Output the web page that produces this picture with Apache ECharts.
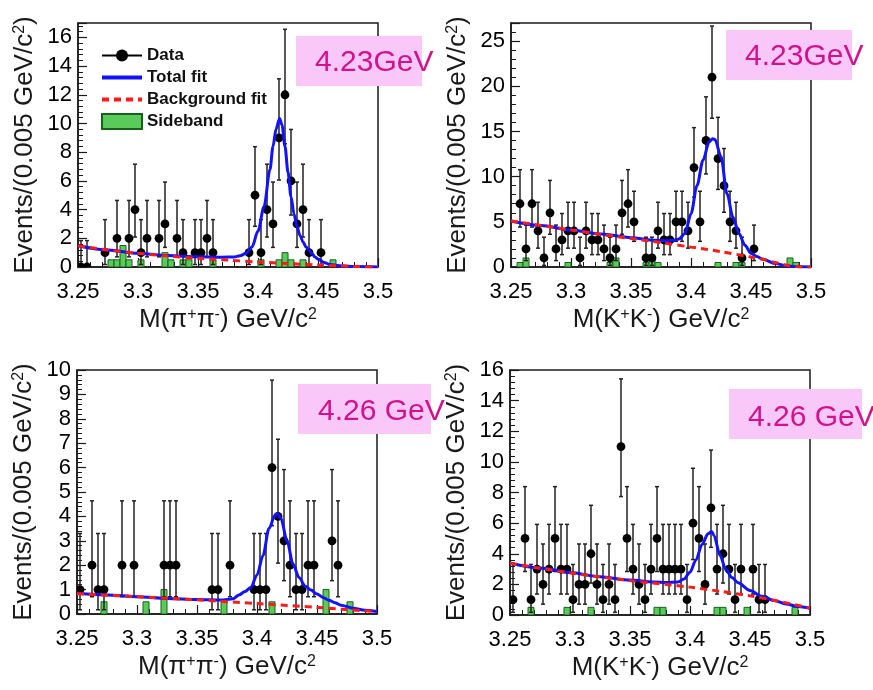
<!DOCTYPE html>
<html>
<head>
<meta charset="utf-8">
<title>chi_cJ fits</title>
<script src="https://cdn.jsdelivr.net/npm/echarts@6/dist/echarts.min.js"></script>
<style>
  html, body { margin: 0; padding: 0; background: #fff; }
  #main { width: 873px; height: 690px; }
</style>
</head>
<body>
<div id="main"></div>
<script>
// 50 bins of 0.005 GeV between 3.25 and 3.5
var binLow = 3.25, binWidth = 0.005;

// 68% Poisson (Garwood) intervals, index = observed count
var poissonLow  = [0, 0.173, 0.708, 1.367, 2.086, 2.840, 3.620, 4.419, 5.232, 6.057, 6.891,
                   7.734, 8.585, 9.441, 10.30, 11.17, 12.04, 12.92, 13.80, 14.68, 15.57, 16.46];
var poissonHigh = [1.841, 3.300, 4.638, 5.918, 7.163, 8.382, 9.584, 10.77, 11.95, 13.11, 14.27,
                   15.42, 16.56, 17.70, 18.83, 19.96, 21.08, 22.20, 23.32, 24.44, 25.55, 26.66];

// ---- 4.23 GeV, pi+pi- ----
var counts423pp = [0, 0, null, null, 1, null, 2, null, 2, 4,
                   1, 2, null, 2, 3, null, 2, 1, null, 1,
                   1, 2, 1, null, null, null, null, null, 1, 5,
                   1, 4, 3, 9, 12, 6, 3, 4, 1, null,
                   1, null, null, null, null, null, null, null, null, null];
var sbBins423pp = [5, 6, 7, 8, 10, 14, 15, 17, 18, 22, 30, 33, 34, 35, 37, 42];
var sbVals423pp = [0.5, 0.5, 1.5, 0.5, 0.5, 1, 0.5, 0.5, 0.5, 0.5, 0.5, 0.5, 1, 0.5, 0.5, 0.5];
var fitX423pp = [3.25, 3.275, 3.3, 3.325, 3.35, 3.37, 3.38, 3.385, 3.39, 3.395, 3.4, 3.405, 3.41, 3.4125,
                 3.415, 3.418, 3.42, 3.4225, 3.425, 3.4275, 3.43, 3.4325, 3.435, 3.4375, 3.44, 3.4425,
                 3.445, 3.4475, 3.45, 3.455, 3.46, 3.47, 3.48, 3.5];
var fitY423pp = [1.48, 1.18, 0.96, 0.80, 0.71, 0.68, 0.70, 0.78, 0.95, 1.4, 2.5, 4.2, 6.8, 8.4,
                 9.6, 10.35, 9.9, 8.4, 6.6, 4.9, 3.7, 2.8, 2.2, 1.75, 1.4, 1.17,
                 0.92, 0.7, 0.55, 0.32, 0.17, 0.07, 0.03, 0.0];
var bkgX423pp = [3.25, 3.275, 3.3, 3.325, 3.35, 3.375, 3.4, 3.425, 3.45, 3.465, 3.48, 3.5];
var bkgY423pp = [1.48, 1.18, 0.95, 0.76, 0.61, 0.48, 0.35, 0.24, 0.14, 0.09, 0.04, 0.0];

// ---- 4.23 GeV, K+K- ----
var counts423kk = [null, 7, 2, 7, 4, 1, 6, 2, 3, 4,
                   4, 1, 4, 3, 3, 2, 1, 2, 6, 7,
                   5, null, 1, 1, 4, 3, 3, 5, 5, 4,
                   11, 5, 14, 21, 12, 9, 5, 4, 1, null,
                   2, null, null, null, null, null, null, null, null, null];
var sbBins423kk = [1, 2, 9, 16, 17, 22, 23, 24, 34, 37, 38, 46, 47];
var sbVals423kk = [0.5, 1, 0.5, 0.5, 1, 0.5, 1, 0.5, 0.5, 0.5, 0.5, 1, 0.5];
var fitX423kk = [3.25, 3.275, 3.3, 3.325, 3.35, 3.37, 3.38, 3.385, 3.39, 3.395, 3.4, 3.405, 3.41,
                 3.415, 3.418, 3.42, 3.425, 3.43, 3.435, 3.44, 3.445, 3.45, 3.455, 3.46, 3.47,
                 3.48, 3.49, 3.5];
var fitY423kk = [5.1, 4.6, 4.1, 3.65, 3.25, 2.95, 2.9, 2.95, 3.1, 3.7, 5.9, 9.0, 11.8,
                 13.8, 14.2, 14.1, 12.2, 8.1, 5.5, 3.7, 2.4, 1.5, 1.15, 0.85, 0.4,
                 0.12, 0.02, 0.0];
var bkgX423kk = [3.25, 3.275, 3.3, 3.325, 3.35, 3.375, 3.4, 3.425, 3.45, 3.46, 3.47, 3.48, 3.49, 3.5];
var bkgY423kk = [5.1, 4.6, 4.1, 3.6, 3.15, 2.7, 2.2, 1.7, 1.1, 0.85, 0.5, 0.2, 0.03, 0.0];

// ---- 4.26 GeV, pi+pi- ----
var counts426pp = [1, null, 2, 1, 1, null, null, 2, null, 2,
                   null, null, null, null, 2, 2, 2, null, null, null,
                   null, null, 1, 1, null, 2, null, null, null, 1,
                   1, 1, 6, 4, 3, 2, 1, 1, 2, 2,
                   null, null, 3, 2, null, null, null, null, null, null];
var sbBins426pp = [4, 11, 14, 24, 32, 41, 45];
var sbVals426pp = [0.5, 0.5, 1, 0.5, 0.5, 1, 0.5];
var fitX426pp = [3.25, 3.275, 3.3, 3.325, 3.35, 3.37, 3.38, 3.385, 3.39, 3.395, 3.4, 3.405, 3.41,
                 3.415, 3.417, 3.42, 3.425, 3.43, 3.435, 3.44, 3.445, 3.45, 3.455, 3.46, 3.465,
                 3.47, 3.48, 3.49, 3.5];
var fitY426pp = [0.85, 0.78, 0.71, 0.64, 0.59, 0.57, 0.62, 0.78, 0.92, 1.1, 1.6, 2.4, 3.5,
                 4.05, 4.12, 3.9, 3.0, 2.05, 1.5, 1.15, 0.98, 0.82, 0.68, 0.56, 0.46,
                 0.36, 0.24, 0.15, 0.1];
var bkgX426pp = [3.25, 3.3, 3.35, 3.4, 3.45, 3.475, 3.5];
var bkgY426pp = [0.83, 0.71, 0.58, 0.43, 0.27, 0.18, 0.1];

// ---- 4.26 GeV, K+K- ----
var counts426kk = [1, null, 5, 1, 3, 2, 3, 5, 3, 3,
                   1, 2, 2, 4, 2, 1, 2, 1, 11, 5,
                   3, 2, 1, 3, 5, 3, 3, 3, 3, 1,
                   6, 5, 2, 7, 3, 4, 3, 1, 3, null,
                   3, 1, 1, null, null, null, null, null, null, null];
var sbBins426kk = [3, 9, 13, 24, 25, 34, 35, 39, 47];
var sbVals426kk = [0.5, 0.5, 0.5, 0.5, 0.5, 0.5, 0.5, 0.5, 0.5];
var fitX426kk = [3.25, 3.275, 3.3, 3.325, 3.35, 3.37, 3.38, 3.39, 3.395, 3.4, 3.405, 3.41, 3.415,
                 3.418, 3.42, 3.425, 3.43, 3.435, 3.44, 3.45, 3.46, 3.47, 3.48, 3.49, 3.5];
var fitY426kk = [3.4, 3.07, 2.77, 2.5, 2.28, 2.15, 2.12, 2.15, 2.35, 2.8, 3.6, 4.6, 5.3,
                 5.45, 5.2, 3.9, 2.95, 2.45, 2.1, 1.6, 1.22, 0.95, 0.72, 0.55, 0.44];
var bkgX426kk = [3.25, 3.3, 3.35, 3.4, 3.425, 3.45, 3.475, 3.5];
var bkgY426kk = [3.38, 2.75, 2.25, 1.82, 1.55, 1.25, 0.88, 0.45];

var yMax = [17, 27, 10, 16];
var yStep = [2, 5, 1, 2];
var xTitles = ['M(π{sup|+}π{sup|-}) GeV/c{sup|2}', 'M(K{sup|+}K{sup|-}) GeV/c{sup|2}',
               'M(π{sup|+}π{sup|-}) GeV/c{sup|2}', 'M(K{sup|+}K{sup|-}) GeV/c{sup|2}'];
var yTitle = 'Events/(0.005 GeV/c{sup|2})';
var energyLabels = ['4.23GeV', '4.23GeV', '4.26 GeV', '4.26 GeV'];

var FONT = '"Liberation Sans", Arial, Helvetica, sans-serif';
var INK = '#1a1a1a';
var GREEN = '#5acb5a', GREEN_EDGE = '#17621a';

function binCenter(k) { return +(binLow + binWidth * (k + 0.5)).toFixed(4); }

function pointData(counts) {
  var out = [];
  counts.forEach(function (n, k) {
    if (n === null) return;
    out.push([binCenter(k), n, poissonLow[n], poissonHigh[n]]);
  });
  return out;
}
function histData(bins, vals) {
  return bins.map(function (b, i) { return [binCenter(b), vals[i]]; });
}
function curveData(xs, ys) {
  return xs.map(function (x, i) { return [x, ys[i]]; });
}

function renderPoint(params, api) {
  var x = api.value(0);
  var c = api.coord([x, api.value(1)]);
  var lo = api.coord([x, api.value(2)]);
  var hi = api.coord([x, api.value(3)]);
  var st = { stroke: '#222', lineWidth: 1.5 };
  return {
    type: 'group',
    children: [
      { type: 'line', shape: { x1: c[0], y1: lo[1], x2: c[0], y2: hi[1] }, style: st },
      { type: 'line', shape: { x1: c[0] - 2, y1: hi[1], x2: c[0] + 2, y2: hi[1] }, style: st },
      { type: 'line', shape: { x1: c[0] - 2, y1: lo[1], x2: c[0] + 2, y2: lo[1] }, style: st },
      { type: 'circle', shape: { cx: c[0], cy: c[1], r: 4.4 }, style: { fill: '#000' } }
    ]
  };
}

// histogram bin drawn across its full 0.005 width
function renderBin(params, api) {
  var x = api.value(0);
  var p0 = api.coord([x - binWidth / 2, 0]);
  var p1 = api.coord([x + binWidth / 2, api.value(1)]);
  return {
    type: 'rect',
    shape: { x: p0[0], y: p1[1], width: p1[0] - p0[0], height: p0[1] - p1[1] },
    style: { fill: GREEN, stroke: GREEN_EDGE, lineWidth: 1 }
  };
}

var panels = [
  { counts: counts423pp, sbB: sbBins423pp, sbV: sbVals423pp, fx: fitX423pp, fy: fitY423pp, bx: bkgX423pp, by: bkgY423pp },
  { counts: counts423kk, sbB: sbBins423kk, sbV: sbVals423kk, fx: fitX423kk, fy: fitY423kk, bx: bkgX423kk, by: bkgY423kk },
  { counts: counts426pp, sbB: sbBins426pp, sbV: sbVals426pp, fx: fitX426pp, fy: fitY426pp, bx: bkgX426pp, by: bkgY426pp },
  { counts: counts426kk, sbB: sbBins426kk, sbV: sbVals426kk, fx: fitX426kk, fy: fitY426kk, bx: bkgX426kk, by: bkgY426kk }
];

var grids = [
  { left: 78, top: 23, width: 300, height: 244 },
  { left: 511, top: 23, width: 300, height: 244 },
  { left: 77, top: 370, width: 300, height: 244 },
  { left: 510, top: 370, width: 300, height: 245 }
];
var boxes = [
  { x: 296, y: 36, w: 126, h: 50, tx: 315, ty: 63 },
  { x: 726, y: 30, w: 126, h: 50, tx: 745, ty: 57 },
  { x: 298, y: 384, w: 133, h: 50, tx: 318, ty: 412 },
  { x: 729, y: 389, w: 133, h: 50, tx: 748, ty: 418 }
];

var supRich = { sup: { fontSize: 16, fontFamily: FONT, color: INK, verticalAlign: 'top', lineHeight: 26 } };

var xAxes = [], yAxes = [], series = [], graphic = [];
panels.forEach(function (p, i) {
  grids[i].show = true;
  grids[i].borderColor = INK;
  grids[i].borderWidth = 1.5;
  xAxes.push({
    type: 'value', gridIndex: i, min: 3.25, max: 3.5, interval: 0.05,
    axisLine: { show: true, onZero: false, lineStyle: { color: INK, width: 1.5 } },
    axisTick: { show: true, inside: true, length: 9, lineStyle: { color: INK, width: 1.2 } },
    minorTick: { show: true, splitNumber: 5, length: 5, lineStyle: { color: INK, width: 1 } },
    splitLine: { show: false },
    axisLabel: {
      margin: 14, fontSize: 22, color: '#000', fontFamily: FONT,
      formatter: function (v) { return String(+v.toFixed(2)); }
    },
    name: xTitles[i], nameLocation: 'middle', nameGap: 40,
    nameTextStyle: { fontSize: 26, color: INK, fontFamily: FONT, lineHeight: 26, rich: supRich }
  });
  yAxes.push({
    type: 'value', gridIndex: i, min: 0, max: yMax[i], interval: yStep[i],
    axisLine: { show: true, onZero: false, lineStyle: { color: INK, width: 1.5 } },
    axisTick: { show: true, inside: true, length: 9, lineStyle: { color: INK, width: 1.2 } },
    minorTick: { show: true, splitNumber: 5, length: 5, lineStyle: { color: INK, width: 1 } },
    splitLine: { show: false },
    axisLabel: { margin: 6, fontSize: 22, color: '#000', fontFamily: FONT, showMaxLabel: yMax[i] % yStep[i] === 0 },
    name: yTitle, nameLocation: 'middle', nameGap: 40, nameRotate: 90,
    nameTextStyle: { fontSize: 26, color: INK, fontFamily: FONT, lineHeight: 26, rich: supRich }
  });

  series.push({
    name: 'Sideband', type: 'custom', xAxisIndex: i, yAxisIndex: i,
    renderItem: renderBin, data: histData(p.sbB, p.sbV),
    encode: { x: 0, y: 1 }, clip: true,
    itemStyle: { color: GREEN, borderColor: GREEN_EDGE, borderWidth: 1 }
  });
  series.push({
    name: 'Data points', type: 'custom', xAxisIndex: i, yAxisIndex: i,
    renderItem: renderPoint, data: pointData(p.counts),
    encode: { x: 0, y: 1 }, clip: true
  });
  series.push({
    name: 'Total fit', type: 'line', xAxisIndex: i, yAxisIndex: i,
    data: curveData(p.fx, p.fy), smooth: 0.3, smoothMonotone: 'x',
    symbol: 'none', showSymbol: false,
    lineStyle: { color: '#1212ff', width: 3 }, itemStyle: { color: '#1212ff' }
  });
  series.push({
    name: 'Background fit', type: 'line', xAxisIndex: i, yAxisIndex: i,
    data: curveData(p.bx, p.by), smooth: 0.3,
    symbol: 'none', showSymbol: false,
    lineStyle: { color: '#ff1a1a', width: 3, type: [7, 5] }, itemStyle: { color: '#ff1a1a' }
  });

  var b = boxes[i];
  graphic.push({ type: 'rect', z: 100, shape: { x: b.x, y: b.y, width: b.w, height: b.h }, style: { fill: '#fac8f8' } });
  graphic.push({
    type: 'text', z: 101, x: b.tx, y: b.ty,
    style: { text: energyLabels[i], fill: '#d0128c', fontSize: 30, fontFamily: FONT, verticalAlign: 'middle' }
  });
});

// legend-only entry for the data markers
series.push({
  name: 'Data', type: 'line', xAxisIndex: 0, yAxisIndex: 0, data: [],
  symbol: 'circle', symbolSize: 9,
  lineStyle: { color: '#000', width: 1.5 }, itemStyle: { color: '#000' }
});

var chart = echarts.init(document.getElementById('main'));
chart.setOption({
  animation: false,
  backgroundColor: '#fff',
  grid: grids,
  xAxis: xAxes,
  yAxis: yAxes,
  legend: {
    orient: 'vertical', left: 95, top: 42,
    itemWidth: 40, itemHeight: 15, itemGap: 5,
    selectedMode: false,
    data: [
      { name: 'Data' },
      { name: 'Total fit', itemStyle: { opacity: 0 }, lineStyle: { width: 4 } },
      { name: 'Background fit', itemStyle: { opacity: 0 }, lineStyle: { width: 4 } },
      { name: 'Sideband', icon: 'rect' }
    ],
    textStyle: { fontSize: 17, fontWeight: 'bold', color: '#111', fontFamily: FONT }
  },
  graphic: graphic,
  series: series
});
</script>
</body>
</html>
